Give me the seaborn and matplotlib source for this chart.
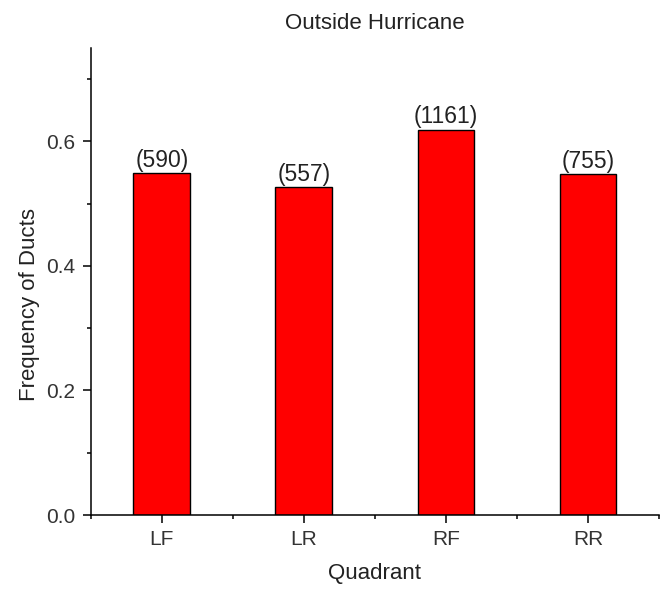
import matplotlib
matplotlib.use('Agg')
import matplotlib.pyplot as plt
from matplotlib.ticker import MultipleLocator, FixedLocator, FormatStrFormatter
import seaborn as sns
import pandas as pd

# values
quadrants = ['LF', 'LR', 'RF', 'RR']
frequency = [0.549, 0.526, 0.619, 0.547]
counts = [590, 557, 1161, 755]

df = pd.DataFrame({'Quadrant': quadrants, 'Frequency': frequency})

sns.set_style('ticks')
plt.rcParams['font.family'] = ['Liberation Sans', 'DejaVu Sans']

fig = plt.figure(figsize=(6.63, 5.89), dpi=100)
ax = fig.add_axes([0.137, 0.1256, 0.857, 0.793])

sns.barplot(data=df, x='Quadrant', y='Frequency', color='#ff0000', saturation=1,
            width=0.4, edgecolor='black', linewidth=1.0, ax=ax)

ax.bar_label(ax.containers[0], labels=['(%d)' % c for c in counts],
             padding=1, fontsize=16.5, color='#222222')

ax.set_xlim(-0.5, 3.5)
ax.set_ylim(0, 0.75)
ax.yaxis.set_major_locator(MultipleLocator(0.2))
ax.yaxis.set_minor_locator(MultipleLocator(0.1))
ax.yaxis.set_major_formatter(FormatStrFormatter('%.1f'))
ax.xaxis.set_minor_locator(FixedLocator([-0.5, 0.5, 1.5, 2.5, 3.5]))

sns.despine(ax=ax)
for s in ['left', 'bottom']:
    ax.spines[s].set_linewidth(1.1)
    ax.spines[s].set_color('black')

ax.tick_params(which='major', length=6, width=1.1, color='black',
               labelsize=15, labelcolor='#333333', direction='out', pad=5)
ax.tick_params(which='minor', length=3, width=1.1, color='black', direction='out')

ax.set_title('Outside Hurricane', fontsize=16, color='#222222', pad=14)
ax.set_xlabel('Quadrant', fontsize=16, color='#222222')
ax.xaxis.set_label_coords(0.5, -0.102)
ax.set_ylabel('Frequency of Ducts', fontsize=16, color='#222222')
ax.yaxis.set_label_coords(-0.09, 0.45)

fig.savefig('out.png', dpi=100)
